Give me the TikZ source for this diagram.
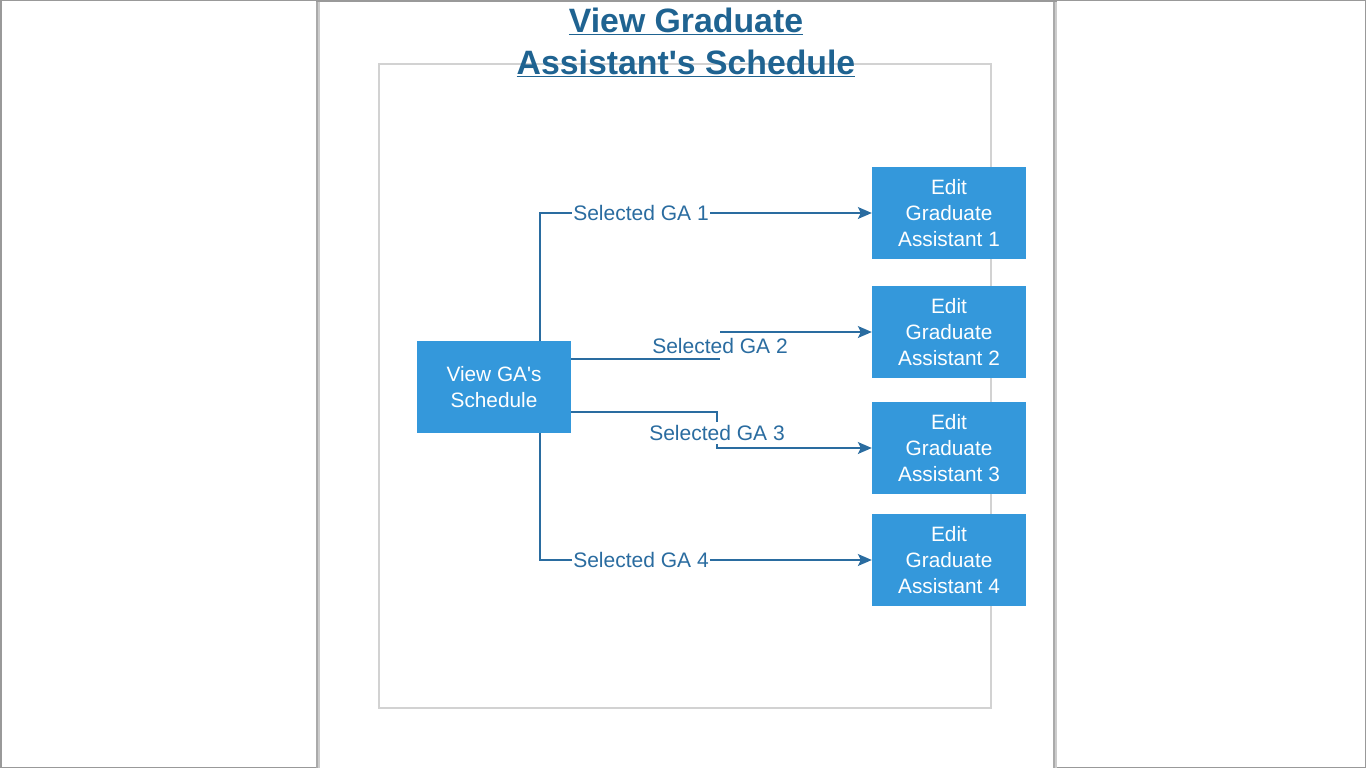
\documentclass[tikz,border=0pt]{standalone}
\usepackage{fontspec}
\setmainfont{Liberation Sans}[Ligatures=TeXOff]
\usetikzlibrary{arrows.meta}
\definecolor{boxblue}{RGB}{52,152,219}
\definecolor{linkblue}{RGB}{42,108,160}
\definecolor{titleblue}{RGB}{31,99,145}
\definecolor{framegray}{RGB}{210,210,210}
\definecolor{pagegray}{RGB}{170,170,170}
\begin{document}
\begin{tikzpicture}[x=1pt,y=-1pt,
  stepbox/.style={fill=boxblue,draw=none,minimum width=154pt,minimum height=92pt,
    text=white,align=center,font=\fontsize{20.8}{26}\selectfont,inner sep=0pt},
  link/.style={draw=linkblue,line width=1.3pt,-{Stealth[length=14pt,width=12pt,inset=3pt]}},
  lbl/.style={fill=white,text=linkblue,font=\fontsize{21}{24}\selectfont,inner xsep=1pt,inner ysep=3.5pt}]
\useasboundingbox (0,0) rectangle (1366,768);
% image frame
\draw[draw=gray!80,line width=1.5pt] (0.75,0.75) rectangle (1365.25,767.25);
% page
\fill[pagegray!60] (316,0) rectangle (321,768);
\fill[pagegray!60] (1052,0) rectangle (1057,768);
\fill[white] (320,2) rectangle (1053,768);
\draw[pagegray,line width=1.5pt] (317,0) -- (317,768);
\draw[pagegray,line width=1.5pt] (1054,0) -- (1054,768);
\draw[gray!80,line width=2pt] (316,1) -- (1057,1);
% frame
\draw[framegray,line width=1.5pt] (379,64) rectangle (991,708);
% title
\node[text=titleblue,font=\bfseries\fontsize{33.8}{42}\selectfont,align=center] (title) at (686,42)
  {\underline{View Graduate}\\\underline{Assistant's Schedule}};
% nodes
\node[stepbox] (view) at (494,387) {View GA's\\Schedule};
\node[stepbox] (e1) at (949,213) {Edit\\Graduate\\Assistant 1};
\node[stepbox] (e2) at (949,332) {Edit\\Graduate\\Assistant 2};
\node[stepbox] (e3) at (949,448) {Edit\\Graduate\\Assistant 3};
\node[stepbox] (e4) at (949,560) {Edit\\Graduate\\Assistant 4};
% connectors
\coordinate (v1) at (540,341);
\coordinate (v4) at (540,433);
\draw[link] (v1) -- (v1 |- e1.west) -- (e1.west);
\node[lbl] at (641,213) {Selected GA 1};
\draw[link] (v4) -- (v4 |- e4.west) -- (e4.west);
\node[lbl] at (641,560) {Selected GA 4};
\coordinate (a2) at (720,359);
\coordinate (b2) at (720,332);
\draw[link] (view.east |- a2) -- (a2) (b2) -- (e2.west);
\node[lbl,fill=none] at (720,346) {Selected GA 2};
\coordinate (a3) at (717,412);
\coordinate (b3) at (717,448);
\draw[link] (view.east |- a3) -- (a3) -- (b3) -- (e3.west);
\node[lbl] at (717,433) {Selected GA 3};
\end{tikzpicture}
\end{document}
